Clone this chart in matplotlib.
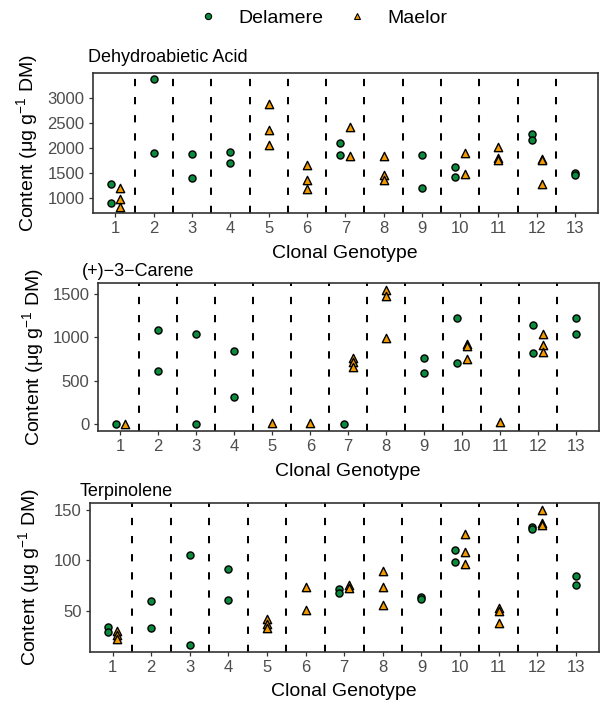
import matplotlib
matplotlib.use("Agg")
import matplotlib.pyplot as plt
from matplotlib.lines import Line2D
import numpy as np

plt.rcParams['font.family'] = ['Liberation Sans', 'DejaVu Sans']
plt.rcParams['mathtext.fontset'] = 'custom'
plt.rcParams['mathtext.rm'] = 'Liberation Sans'
plt.rcParams['mathtext.default'] = 'regular'

clones = list(range(1, 14))
groups = ['Delamere', 'Maelor']
group_colors = {'Delamere': '#0A8A3C', 'Maelor': '#F39A00'}
group_markers = {'Delamere': 'o', 'Maelor': '^'}

# Dehydroabietic acid
dha_del_clone = [1, 1, 2, 2, 3, 3, 4, 4, 7, 7, 9, 9, 10, 10, 12, 12, 13, 13]
dha_del_value = [1279, 907, 3370, 1896, 1870, 1405, 1910, 1697, 2102, 1863,
                 1863, 1199, 1624, 1412, 2275, 2155, 1491, 1465]
dha_mae_clone = [1, 1, 1, 5, 5, 5, 6, 6, 6, 7, 7, 8, 8, 8, 10, 10, 11, 11, 11, 12, 12, 12]
dha_mae_value = [1199, 987, 827, 2886, 2361, 2049, 1657, 1352, 1173, 2414, 1837,
                 1837, 1452, 1365, 1903, 1485, 2023, 1797, 1750, 1777, 1757, 1279]

# (+)-3-Carene
car_del_clone = [1, 2, 2, 3, 3, 4, 4, 7, 9, 9, 10, 10, 12, 12, 13, 13]
car_del_value = [0, 1089, 619, 1036, 0, 843, 311, 8, 759, 596, 1226, 702,
                 1139, 824, 1226, 1040]
car_mae_clone = [1, 5, 6, 7, 7, 7, 8, 8, 8, 10, 10, 10, 11, 12, 12, 12]
car_mae_value = [5, 10, 15, 759, 721, 657, 1549, 1480, 998, 922, 900, 748,
                 27, 1044, 915, 831]

# Terpinolene
ter_del_clone = [1, 1, 2, 2, 3, 3, 4, 4, 7, 7, 9, 9, 10, 10, 12, 12, 13, 13]
ter_del_value = [34.4, 29.1, 60.3, 33.4, 105.6, 16.3, 91.8, 60.6, 72.1, 67.8,
                 63.9, 62.3, 109.8, 98.7, 133.1, 131.2, 84.3, 75.7]
ter_mae_clone = [1, 1, 1, 5, 5, 5, 6, 6, 7, 7, 8, 8, 8, 10, 10, 10, 11, 11, 11, 12, 12, 12]
ter_mae_value = [30.8, 26.8, 22.2, 42.6, 37.3, 33.4, 73.8, 50.8, 75.7, 72.4,
                 89.5, 73.8, 55.7, 125.6, 107.9, 96.4, 53.1, 49.8, 38.6,
                 149.9, 136.4, 134.4]

W, H = 601, 704
fig = plt.figure(figsize=(W / 100, H / 100), dpi=100)


def px_axes(left, top, right, bottom):
    return fig.add_axes([left / W, 1 - bottom / H, (right - left) / W, (bottom - top) / H])


def draw_panel(ax, del_clone, del_value, mae_clone, mae_value, yticks):
    both = set(del_clone) & set(mae_clone)
    data = {'Delamere': (del_clone, del_value, -0.125),
            'Maelor': (mae_clone, mae_value, 0.125)}
    for g in groups:
        c, v, off = data[g]
        x = np.array([ci + (off if ci in both else 0) for ci in c])
        ax.scatter(x, v, marker=group_markers[g], s=26 if g == 'Delamere' else 36,
                   facecolor=group_colors[g], edgecolor='black', linewidth=1.0, zorder=3)
    for b in np.arange(1.5, 13, 1):
        ax.axvline(b, color='black', linewidth=1.45, linestyle=(0, (3.6, 5.4)), zorder=1)
    ax.set_xlim(0.4, 13.6)
    ax.margins(y=0.05)
    ax.set_xticks(clones)
    ax.set_yticks(yticks)
    ax.tick_params(axis='both', length=3.2, width=0.9, color='#333333',
                   labelcolor='#4D4D4D', labelsize=12, pad=2.5)
    for s in ax.spines.values():
        s.set_color('#333333')
        s.set_linewidth(1.2)


ax1 = px_axes(92.5, 73, 598, 213)
draw_panel(ax1, dha_del_clone, dha_del_value, dha_mae_clone, dha_mae_value,
           [1000, 1500, 2000, 2500, 3000])
ax2 = px_axes(97.5, 283, 599, 431)
draw_panel(ax2, car_del_clone, car_del_value, car_mae_clone, car_mae_value,
           [0, 500, 1000, 1500])
ax3 = px_axes(89.5, 503, 599, 652)
draw_panel(ax3, ter_del_clone, ter_del_value, ter_mae_clone, ter_mae_value,
           [50, 100, 150])

ylab = 'Content (μg g$^{-1}$ DM)'
titles = [('Dehydroabietic Acid', 87.5, 57), ('(+)\u22123\u2212Carene', 82, 271),
          ('Terpinolene', 79.5, 492)]
for t, x, y in titles:
    fig.text(x / W, 1 - y / H, t, fontsize=13, ha='left', va='center')

for ax, (l, r, t, b), ylx in [(ax1, (92.5, 598, 73, 213), 27),
                              (ax2, (97.5, 599, 283, 431), 33),
                              (ax3, (89.5, 599, 503, 652), 29)]:
    fig.text((l + r) / 2 / W, 1 - (b + 40) / H, 'Clonal Genotype', fontsize=14,
             ha='center', va='center')
    fig.text(ylx / W, 1 - (t + b) / 2 / H, ylab, fontsize=14, rotation=90,
             ha='center', va='center')

handles = [Line2D([], [], linestyle='none', marker=group_markers[g], markersize=4.5,
                  markerfacecolor=group_colors[g], markeredgecolor='black',
                  markeredgewidth=0.8, label=g) for g in groups]
fig.legend(handles=handles, loc='center', bbox_to_anchor=(323 / W, 1 - 18 / H),
           ncol=2, frameon=False, fontsize=14, handlelength=1.0,
           handletextpad=1.05, columnspacing=1.25)

fig.savefig('out.png', dpi=100)
